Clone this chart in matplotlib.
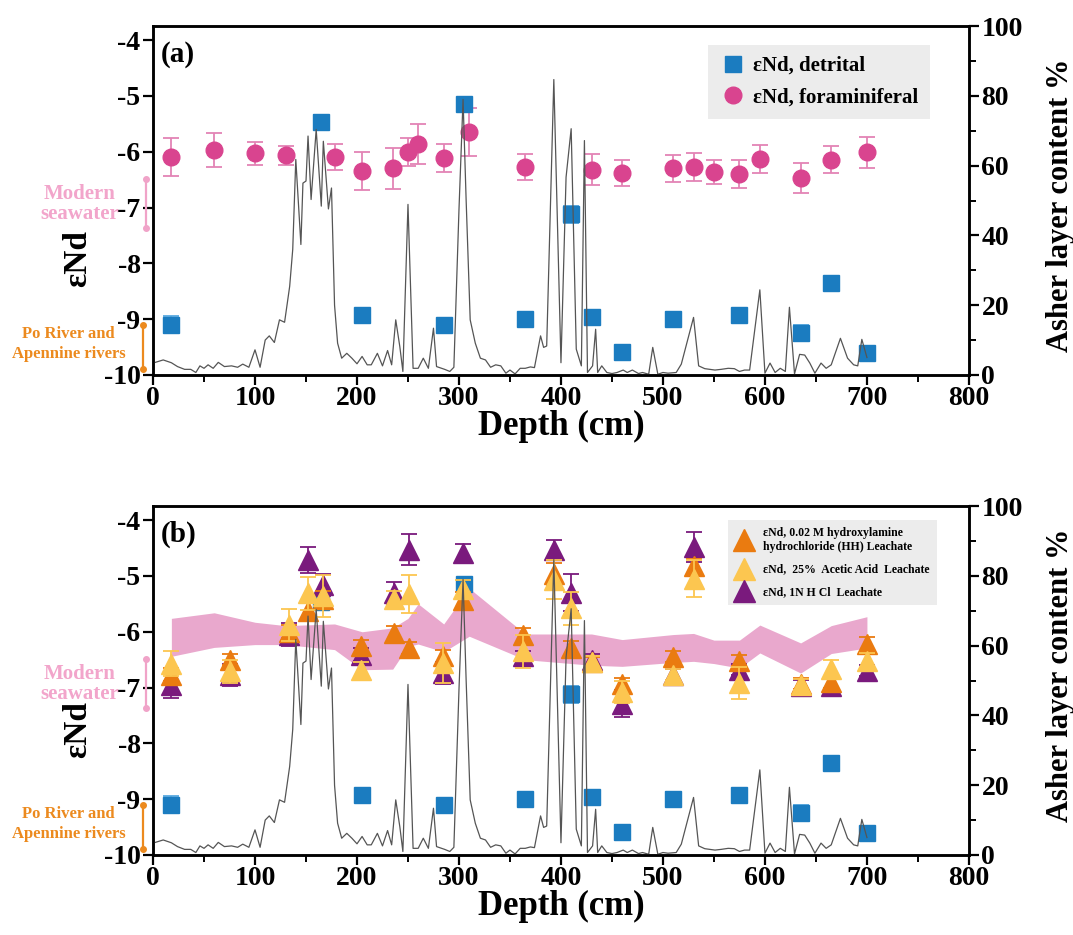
import matplotlib.pyplot as plt
from matplotlib.lines import Line2D
from matplotlib.ticker import MultipleLocator
import matplotlib.transforms as mtransforms

plt.rcParams['font.family'] = ['Liberation Serif', 'DejaVu Serif']
plt.rcParams['font.weight'] = 'bold'
plt.rcParams['axes.unicode_minus'] = False

# ash layer content (%) vs depth (cm)
ash_depth = [0, 10, 18, 24, 31, 37, 42, 46, 50, 54, 59, 64, 70, 77, 83, 88, 94, 100, 105, 110,
             114, 119, 124, 129, 134, 137, 140, 145, 147, 150, 152, 155, 160, 165, 167, 172, 175,
             178, 181, 185, 190, 195, 200, 205, 210, 214, 220, 225, 230, 234, 238, 242, 245, 250,
             255, 260, 265, 270, 275, 278, 286, 291, 295, 300, 304, 307, 311, 316, 321, 326, 331,
             336, 341, 346, 350, 355, 360, 365, 370, 374, 380, 383, 386, 393, 400, 405, 410, 415,
             420, 423, 426, 431, 434, 436, 440, 445, 450, 455, 461, 465, 470, 476, 480, 486, 490,
             495, 500, 505, 513, 518, 530, 535, 541, 551, 557, 564, 570, 575, 580, 585, 595, 600,
             605, 610, 615, 620, 624, 629, 634, 639, 644, 649, 655, 660, 665, 674, 681, 687, 691,
             695, 700]
ash_pct = [3.4, 4.3, 3.5, 2.4, 1.6, 1.6, 0.7, 2.6, 1.9, 2.9, 1.9, 3.6, 2.4, 2.6, 2.2, 3.1, 2.2, 7.2, 2.2, 10.0,
           11.2, 9.3, 15.8, 15.1, 25.4, 36.0, 61.8, 37.4, 55.0, 55.6, 68.5, 50.3, 70.4, 48.4, 67.0, 47.6, 53.6,
           20.0, 9.1, 4.8, 6.2, 4.8, 3.2, 5.3, 2.9, 2.9, 6.2, 2.6, 7.0, 2.9, 15.8, 8.1, 1.0, 48.9,
           1.9, 1.9, 4.8, 1.9, 13.4, 2.4, 1.6, 1.0, 2.2, 47.4, 79.0, 50.3, 15.8, 9.1, 4.8, 4.3, 2.2,
           2.9, 2.6, 0.5, 1.4, 0.3, 1.9, 1.9, 2.3, 2.1, 11.2, 7.9, 8.3, 84.7, 3.5, 56.7, 70.6, 7.4,
           2.6, 67.2, 0.7, 2.6, 13.1, 0.7, 2.6, 0.7, 0.4, 0.7, 1.4, 0.7, 1.4, 0.4, 0.7, 0.2, 7.9,
           0.2, 0.7, 0.5, 0.7, 3.1, 16.5, 2.6, 1.8, 1.4, 1.6, 1.9, 1.8, 1.0, 1.4, 1.4, 24.4, 0.5,
           3.4, 0.7, 1.9, 1.0, 19.4, 0.3, 5.9, 5.7, 3.4, 0.5, 3.4, 1.9, 2.9, 10.5, 4.8, 2.9, 2.6,
           10.2, 5.0]

# detrital eNd
det_depth = [18, 165, 205, 285, 305, 365, 410, 430, 460, 510, 575, 635, 665, 700]
det_end = [-9.10, -5.47, -8.93, -9.10, -5.15, -9.00, -7.12, -8.97, -9.59, -9.00, -8.93, -9.25, -8.35, -9.60]
det_err = [0.15, 0.12, 0.10, 0.08, 0.08, 0.08, 0.15, 0.12, 0.10, 0.12, 0.10, 0.15, 0.08, 0.10]

# foraminiferal eNd
for_depth = [18, 60, 100, 130, 178, 205, 235, 250, 260, 285, 310, 365, 430, 460, 510, 530, 550,
             575, 595, 635, 665, 700]
for_end = [-6.10, -5.97, -6.03, -6.06, -6.09, -6.34, -6.30, -6.01, -5.86, -6.11, -5.65, -6.27, -6.32,
           -6.38, -6.30, -6.28, -6.36, -6.40, -6.13, -6.47, -6.14, -6.01]
for_err = [0.34, 0.31, 0.20, 0.17, 0.23, 0.34, 0.37, 0.25, 0.36, 0.25, 0.43, 0.23, 0.28, 0.24, 0.25,
           0.25, 0.21, 0.25, 0.25, 0.27, 0.25, 0.28]

# leachates
lea_depth = [18, 75, 133, 152, 167, 204, 236, 251, 284, 304, 363, 393, 410, 430, 460, 510, 530, 575, 635, 665, 700]
hh_end = [-6.77, -6.50, -6.00, -5.63, -5.42, -6.26, -6.03, -6.29, -6.44, -5.43, -6.06, -4.97, -6.29,
          -6.55, -6.94, -6.45, -4.82, -6.52, -6.93, -6.90, -6.22]
hh_err = [0.12, 0.10, 0.12, 0.15, 0.15, 0.12, 0.13, 0.10, 0.12, 0.15, 0.12, 0.20, 0.12, 0.10, 0.12,
          0.10, 0.12, 0.10, 0.10, 0.10, 0.12]
aa_end = [-6.57, -6.71, -5.88, -5.31, -5.36, -6.68, -5.42, -5.33, -6.56, -5.23, -6.35, -5.07, -5.58,
          -6.55, -7.08, -6.77, -5.05, -6.92, -6.95, -6.66, -6.53]
aa_err = [0.22, 0.20, 0.28, 0.30, 0.37, 0.14, 0.15, 0.34, 0.35, 0.15, 0.30, 0.35, 0.30, 0.12, 0.20,
          0.10, 0.33, 0.28, 0.10, 0.15, 0.15]
hcl_end = [-6.95, -6.78, -6.05, -4.71, -5.16, -6.41, -5.31, -4.53, -6.74, -4.59, -6.44, -4.53, -5.30,
           -6.50, -7.29, -6.77, -4.48, -6.68, -6.97, -6.97, -6.70]
hcl_err = [0.24, 0.20, 0.20, 0.23, 0.20, 0.12, 0.20, 0.28, 0.20, 0.16, 0.10, 0.17, 0.33, 0.10, 0.24,
           0.10, 0.27, 0.10, 0.10, 0.15, 0.10]

blue = '#1b7cc0'
blue_err = '#5aaae0'
pink = '#d9448f'
pink_err = '#e383b5'
band = '#e9a8cd'
orange = '#ea7b10'
yellow = '#fcc650'
purple = '#7a1a7d'
serif = ['Liberation Serif', 'DejaVu Serif']

fig = plt.figure(figsize=(10.73, 9.35), dpi=100)
ax_a = fig.add_axes([0.1426, 0.599, 0.7604, 0.373])
ax_b = fig.add_axes([0.1426, 0.0856, 0.7604, 0.373])


def setup(ax, tag, ylab_y, rlab_y):
    ax.set_xlim(0, 800)
    ax.set_ylim(-10, -3.75)
    ax.set_yticks([-10, -9, -8, -7, -6, -5, -4])
    ax.set_xticks(range(0, 801, 100))
    ax.xaxis.set_minor_locator(MultipleLocator(50))
    ax.tick_params(which='major', direction='out', length=7, width=1.6, labelsize=20, pad=2)
    ax.tick_params(axis='x', which='major', pad=1)
    ax.tick_params(which='minor', direction='out', length=5, width=1.4)
    ax.tick_params(axis='y', which='minor', left=False)
    for s in ax.spines.values():
        s.set_linewidth(1.8)
    ax.set_xlabel('Depth (cm)', fontsize=25, fontweight='bold', labelpad=-1)
    ax.set_ylabel('εNd', fontsize=24, fontweight='bold')
    ax.yaxis.set_label_coords(-0.074, ylab_y)
    ax.text(0.009, 0.92, tag, transform=ax.transAxes, fontsize=21, fontweight='bold',
            va='center', ha='left')

    trans = mtransforms.blended_transform_factory(ax.transAxes, ax.transData)
    ax.plot([-0.0085, -0.0085], [-6.49, -7.37], color='#f0a3c8', lw=1.6, marker='o', ms=4,
            transform=trans, clip_on=False)
    ax.text(-0.042, -6.94, 'Modern\nseawater', transform=trans, color='#f2a5cb', fontsize=15,
            fontweight='bold', ha='right', va='center', multialignment='center', linespacing=1.0)
    ax.plot([-0.0127, -0.0127], [-9.10, -9.89], color='#ec8a1e', lw=1.6, marker='o', ms=4,
            transform=trans, clip_on=False)
    ax.text(-0.034, -9.45, 'Po River and\nApennine rivers', transform=trans, color='#ec8a1e',
            fontsize=12, fontweight='bold', ha='right', va='center', multialignment='center',
            linespacing=1.3)

    axr = ax.twinx()
    axr.set_ylim(0, 100)
    axr.yaxis.set_minor_locator(MultipleLocator(10))
    axr.tick_params(which='major', direction='out', length=7, width=1.6, labelsize=20, pad=2)
    axr.tick_params(which='minor', direction='out', length=5, width=1.4)
    for s in axr.spines.values():
        s.set_linewidth(1.8)
    axr.set_ylabel('Asher layer content %', fontsize=22, fontweight='bold')
    axr.yaxis.set_label_coords(1.094, rlab_y)
    axr.plot(ash_depth, ash_pct, color='#555555', lw=0.9)
    return axr


def errs(ax, x, y, e, fc, ec, marker, ms, z):
    ax.errorbar(x, y, yerr=e, fmt=marker, ms=ms, color=fc, mec=fc, ecolor=ec,
                elinewidth=1.3, capsize=6, capthick=1.3, zorder=z)


def boxed(leg):
    leg.get_frame().set_facecolor('#ececec')
    leg.get_frame().set_edgecolor('none')
    leg.get_frame().set_alpha(1)


# panel a
setup(ax_a, '(a)', 0.335, 0.487)
errs(ax_a, det_depth, det_end, det_err, blue, blue_err, 's', 11, 3)
errs(ax_a, for_depth, for_end, for_err, pink, pink_err, 'o', 12, 3)
h_a = [Line2D([], [], ls='none', marker='s', ms=11, color=blue),
       Line2D([], [], ls='none', marker='o', ms=12, color=pink)]
leg = ax_a.legend(h_a, ['εNd, detrital', 'εNd, foraminiferal'], loc='upper right',
                  bbox_to_anchor=(0.965, 0.977), frameon=True, fancybox=False,
                  prop={'family': serif, 'weight': 'bold', 'size': 15},
                  handletextpad=0.3, labelspacing=0.55, borderpad=0.55, handlelength=1.3)
boxed(leg)

# panel b
setup(ax_b, '(b)', 0.36, 0.516)
lo = [m - e for m, e in zip(for_end, for_err)]
hi = [m + e for m, e in zip(for_end, for_err)]
ax_b.fill_between(for_depth, lo, hi, color=band, lw=0, zorder=1)
errs(ax_b, det_depth, det_end, det_err, blue, blue_err, 's', 11, 2)
errs(ax_b, lea_depth, hcl_end, hcl_err, purple, purple, '^', 14, 3)
errs(ax_b, lea_depth, hh_end, hh_err, orange, orange, '^', 14, 4)
errs(ax_b, lea_depth, aa_end, aa_err, yellow, yellow, '^', 14, 5)
h_b = [Line2D([], [], ls='none', marker='^', ms=16, color=orange),
       Line2D([], [], ls='none', marker='^', ms=16, color=yellow),
       Line2D([], [], ls='none', marker='^', ms=16, color=purple)]
leg = ax_b.legend(h_b, ['εNd, 0.02 M hydroxylamine\nhydrochloride (HH) Leachate',
                        'εNd,  25%  Acetic Acid  Leachate',
                        'εNd, 1N H Cl  Leachate'],
                  loc='upper right', bbox_to_anchor=(0.968, 0.977), frameon=True, fancybox=False,
                  prop={'family': serif, 'weight': 'bold', 'size': 8.5},
                  handletextpad=0.8, labelspacing=0.9, borderpad=0.6, handlelength=1.6)
boxed(leg)

fig.savefig('out.png', dpi=100)
